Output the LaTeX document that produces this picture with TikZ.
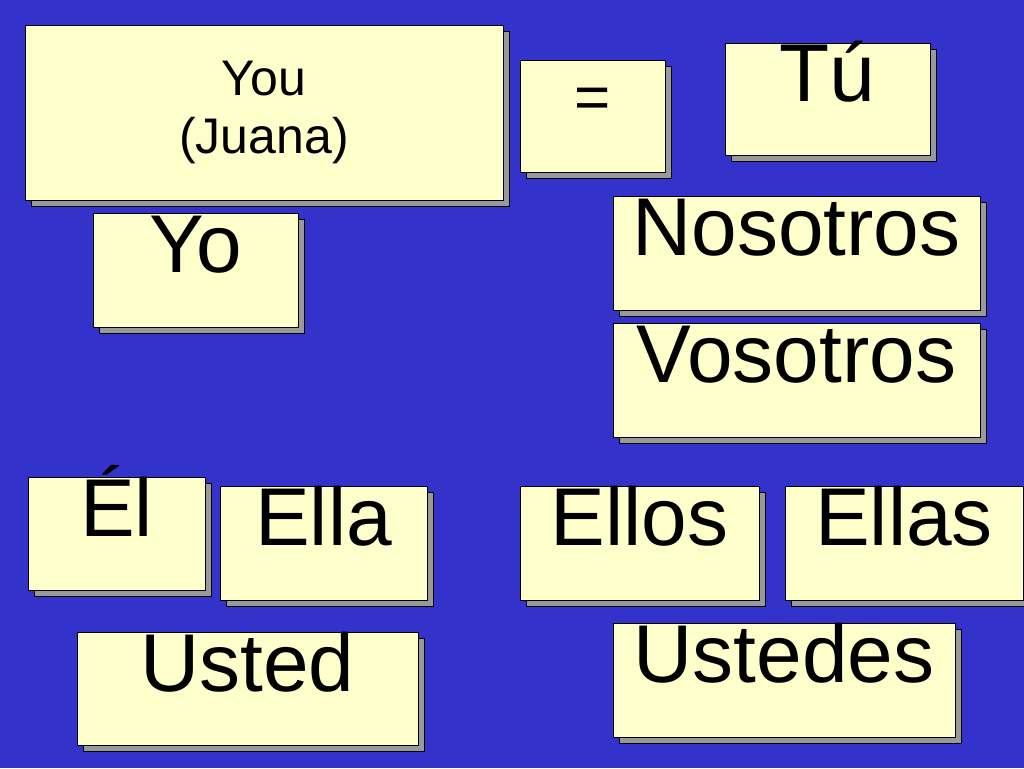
\documentclass[tikz,border=0pt]{standalone}
\usepackage{fontspec}
\setmainfont{Liberation Sans}
\definecolor{bg}{HTML}{3333CC}
\definecolor{card}{HTML}{FFFFCC}
\begin{document}
\begin{tikzpicture}[x=1pt,y=-1pt,
  card/.style={draw=black,fill=card,line width=0.8pt,inner sep=0pt,align=center,
    text height=0.72em,text depth=0.2em,
    preaction={draw=black,fill=gray!80,line width=0.8pt,transform canvas={shift={(6pt,-6pt)}}}}]
\fill[bg] (0,0) rectangle (1024,768);
\useasboundingbox (0,0) rectangle (1024,768);
\newcommand{\bx}[7]{\node[card,minimum width={#4-#2},minimum height={#5-#3},font=\fontsize{#7}{#7}\selectfont] (#1) at ({(#2+#4)/2},{(#3+#5)/2}) {#6};}
\node[card,minimum width=478,minimum height=175,font=\fontsize{50}{58}\selectfont,text height=,text depth=] (you) at (264,112.5) {You\\(Juana)};
\bx{eq}{520}{60}{665}{172}{=}{62}
\bx{tu}{725}{43}{930}{155}{Tú}{82}
\bx{yo}{93}{213}{298}{327}{Yo}{82}
\bx{nos}{613}{196}{980}{310}{Nosotros}{82}
\bx{vos}{613}{323}{980}{437}{Vosotros}{82}
\bx{el}{28}{477}{205}{590}{Él}{82}
\bx{ella}{220}{486}{427}{600}{Ella}{82}
\bx{ellos}{520}{486}{759}{600}{Ellos}{82}
\bx{ellas}{785}{486}{1023}{600}{Ellas}{82}
\bx{usted}{77}{632}{418}{745}{Usted}{82}
\bx{ustedes}{613}{623}{955}{737}{Ustedes}{82}
\end{tikzpicture}
\end{document}
